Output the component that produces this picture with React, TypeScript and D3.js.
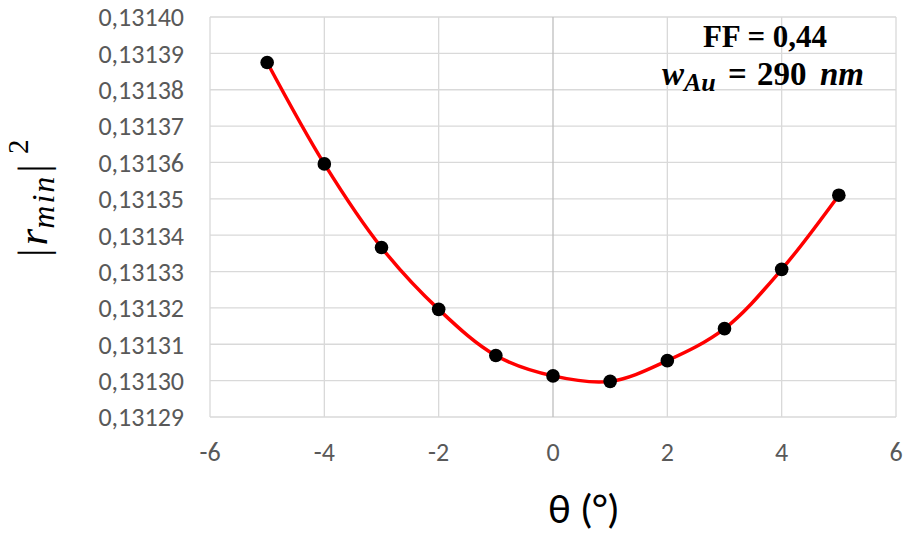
import React from "react";
import * as d3 from "d3";

const thetas = [-5, -4, -3, -2, -1, 0, 1, 2, 3, 4, 5];
const rmin2 = [0.1313875, 0.1313596, 0.1313366, 0.1313196, 0.1313069, 0.1313013, 0.1312998, 0.1313055, 0.1313143, 0.1313306, 0.131351];
const xTicks = [-6, -4, -2, 0, 2, 4, 6];
const yTicks = [0.13129, 0.1313, 0.13131, 0.13132, 0.13133, 0.13134, 0.13135, 0.13136, 0.13137, 0.13138, 0.13139, 0.1314];

const W = 903, H = 536;
const L = 210, R = 896, T = 17, B = 417;

export default function App() {
  const x = d3.scaleLinear().domain([-6, 6]).range([L, R]);
  const y = d3.scaleLinear().domain([0.13129, 0.1314]).range([B, T]);
  const pts = thetas.map((t, i) => [t, rmin2[i]] as [number, number]);
  const line = d3.line<[number, number]>().x(d => x(d[0])).y(d => y(d[1])).curve(d3.curveCatmullRom.alpha(0.5));
  const tickFont = "Carlito, Calibri, Lato, 'Open Sans', sans-serif";
  const serif = "'Liberation Serif', 'DejaVu Serif', serif";
  const fmt = (v: number) => v.toFixed(5).replace(".", ",");
  return (
    <svg width={W} height={H} style={{ position: "absolute", left: 0, top: 0, background: "#fff" }}>
      <rect x={0} y={0} width={W} height={H} fill="#fff" />
      {yTicks.map(v => (
        <line key={"gy" + v} x1={L} x2={R} y1={y(v)} y2={y(v)} stroke="#d9d9d9" strokeWidth={1.3} />
      ))}
      {xTicks.map(v => (
        <line key={"gx" + v} x1={x(v)} x2={x(v)} y1={T} y2={B} stroke={v === 0 ? "#bfbfbf" : "#d9d9d9"} strokeWidth={1.3} />
      ))}
      {yTicks.map(v => (
        <text key={"ty" + v} x={184} y={y(v)} dy="0.36em" textAnchor="end" fontFamily={tickFont} fontSize={26} fill="#595959">{fmt(v)}</text>
      ))}
      {xTicks.map(v => (
        <text key={"tx" + v} x={x(v)} y={461} textAnchor="middle" fontFamily={tickFont} fontSize={26} fill="#595959">{v}</text>
      ))}
      <path d={line(pts) || ""} fill="none" stroke="#ff0000" strokeWidth={3.5} />
      {pts.map((p, i) => (
        <circle key={"p" + i} cx={x(p[0])} cy={y(p[1])} r={6.8} fill="#000" />
      ))}
      <text x={584} y={523} textAnchor="middle" fontFamily={tickFont} fontSize={42} fill="#000">θ (°)</text>
      <text transform="translate(47,257) rotate(-90)" textAnchor="start" fontFamily={serif} fontSize={43} fill="#000">
        <tspan>|</tspan>
        <tspan fontStyle="italic" dx={3}>r</tspan>
        <tspan fontStyle="italic" fontSize={32} dy={7} letterSpacing={2}>min</tspan>
        <tspan dy={-7} dx={2}>|</tspan>
        <tspan fontSize={29} dy={-19} dx={10}>2</tspan>
      </text>
      <text x={765} y={47} textAnchor="middle" fontFamily={serif} fontWeight="bold" fontSize={31} fill="#000">FF = 0,44</text>
      <text y={85} fontFamily={serif} fontWeight="bold" fontSize={33} fill="#000">
        <tspan x={662} fontStyle="italic">w</tspan>
        <tspan x={684} fontStyle="italic" fontSize={26} dy={6}>Au</tspan>
        <tspan x={728} dy={-6}>=</tspan>
        <tspan x={757}>290</tspan>
        <tspan x={820} fontStyle="italic">nm</tspan>
      </text>
    </svg>
  );
}
